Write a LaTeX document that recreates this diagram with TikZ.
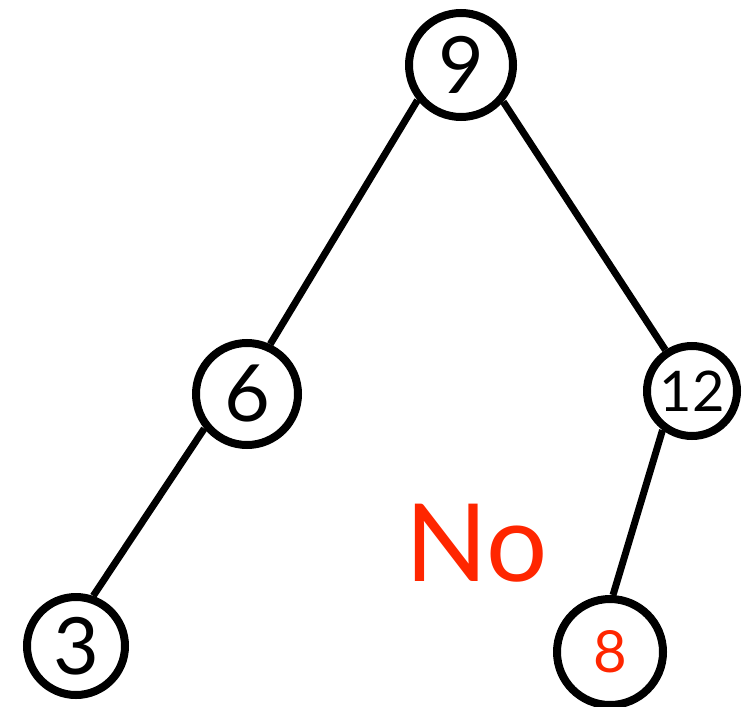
\documentclass[tikz,border=0pt]{standalone}
\usepackage{fontspec}
\setmainfont{Lato}
\definecolor{nored}{RGB}{255,38,0}
\begin{document}
\begin{tikzpicture}[x=1pt,y=-1pt,
  vnode/.style={circle,draw=black,line width=8pt,fill=white,inner sep=0pt,font=\fontsize{79}{79}\selectfont},
  edge/.style={line width=7pt,black}]
\useasboundingbox (0,0) rectangle (743,706);
\fill[white] (0,0) rectangle (743,706);
\node[vnode,minimum size=104pt] (n9) at (461,65) {9};
\node[vnode,minimum size=102pt] (n6) at (247,394) {6};
\node[vnode,minimum size=90pt,font=\fontsize{56}{56}\selectfont] (n12) at (692,391) {12};
\node[vnode,minimum size=98pt] (n3) at (76,646) {3};
\node[vnode,minimum size=106pt,font=\fontsize{58}{58}\selectfont,text=nored] (n8) at (610,652) {8};
\draw[edge] (n9.219) -- (n6.65);
\draw[edge] (n9.319) -- (n12.123);
\draw[edge] (n6.219) -- (n3.71);
\draw[edge] (n12.233) -- (n8.87);
\node[text=nored,font=\fontsize{108}{108}\selectfont,inner sep=0pt] (no) at (477,543) {No};
\end{tikzpicture}
\end{document}
